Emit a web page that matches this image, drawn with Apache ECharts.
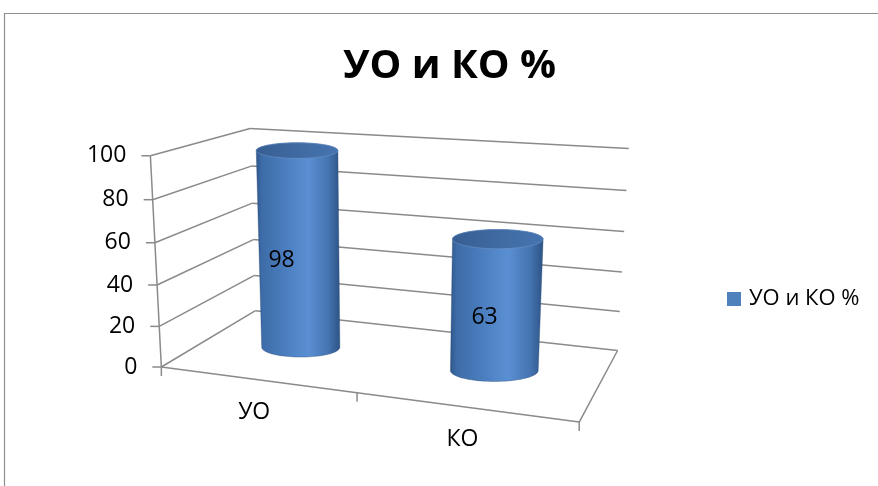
<!DOCTYPE html>
<html>
<head>
<meta charset="utf-8">
<script src="https://cdn.jsdelivr.net/npm/echarts@6/dist/echarts.min.js"></script>
<style>
  html, body { margin: 0; padding: 0; background: #ffffff; }
  #chart { width: 878px; height: 486px; }
</style>
</head>
<body>
<div id="chart"></div>
<script>
// ---------- data ----------
const categories = ['УО', 'КО'];
const values = [98, 63];
const seriesName = 'УО и КО %';
const titleText = 'УО и КО %';
const yTicks = [0, 20, 40, 60, 80, 100];

// ---------- 3D frame layout (calibration of the perspective box, unit cube -> screen) ----------
// [u (category dir), v (value dir), w (depth, 0 front .. 1 back), screenX, screenY]
const frameCalib = [
  [0, 0, 0, 161.7, 366.7],
  [0, 1, 0, 150, 156],
  [0, 0.2, 0, 158.3, 326],
  [0, 0.8, 0, 153.3, 200],
  [0, 1, 1, 250, 128],
  [0, 0.8, 1, 251.5, 166.5],
  [1, 1, 1, 628, 148],
  [1, 0.8, 1, 627.3, 190.7],
  [1, 0, 1, 617.3, 350.7],
  [1, 0, 0, 579.3, 421.7],
  [0.5, 0, 0, 357.3, 393.3]
];

function fitProjection(pts) {
  const sx = 300, ox = 440, oy = 250;
  const A = [], b = [];
  for (const [X, Y, Z, x0, y0] of pts) {
    const x = (x0 - ox) / sx, y = (y0 - oy) / sx;
    A.push([X, Y, Z, 1, 0, 0, 0, 0, -x * X, -x * Y, -x * Z]); b.push(x);
    A.push([0, 0, 0, 0, X, Y, Z, 1, -y * X, -y * Y, -y * Z]); b.push(y);
  }
  const n = 11;
  const M = Array.from({ length: n }, () => new Array(n + 1).fill(0));
  for (let r = 0; r < A.length; r++) {
    for (let i = 0; i < n; i++) {
      for (let j = 0; j < n; j++) M[i][j] += A[r][i] * A[r][j];
      M[i][n] += A[r][i] * b[r];
    }
  }
  for (let c = 0; c < n; c++) {
    let p = c;
    for (let r = c + 1; r < n; r++) if (Math.abs(M[r][c]) > Math.abs(M[p][c])) p = r;
    const tmp = M[c]; M[c] = M[p]; M[p] = tmp;
    for (let r = 0; r < n; r++) {
      if (r === c) continue;
      const f = M[r][c] / M[c][c];
      for (let k = c; k <= n; k++) M[r][k] -= f * M[c][k];
    }
  }
  const p = M.map((row, i) => row[n] / row[i]);
  return function (u, v, w) {
    const d = p[8] * u + p[9] * v + p[10] * w + 1;
    return [
      ox + sx * (p[0] * u + p[1] * v + p[2] * w + p[3]) / d,
      oy + sx * (p[4] * u + p[5] * v + p[6] * w + p[7]) / d
    ];
  };
}
const P = fitProjection(frameCalib);

// ---------- styles ----------
const FONT = '"Open Sans", "Noto Sans", sans-serif';
const LINE_COLOR = '#8a8a8a';
const LINE_W = 1.5;
const BAR_COLOR = '#4F81BD';
const CYL_RU = 0.107;   // cylinder radius in category units
const CYL_DEPTH = 0.5;  // depth position of cylinder axis

function unitOf(params, api, cat, val) {
  const cs = params.coordSys;
  const c = api.coord([cat, val]);
  return [(c[0] - cs.x) / cs.width, (cs.y + cs.height - c[1]) / cs.height];
}
function seg(a, b) {
  return { type: 'line', shape: { x1: a[0], y1: a[1], x2: b[0], y2: b[1] },
           style: { stroke: LINE_COLOR, lineWidth: LINE_W } };
}

function renderFrame(params, api) {
  const tick = api.value(1);
  const v = unitOf(params, api, 0, tick)[1];
  const children = [];
  const f = P(0, v, 0);
  children.push(seg(f, P(0, v, 1)));          // side wall gridline
  children.push(seg(P(0, v, 1), P(1, v, 1))); // back wall gridline
  children.push(seg(f, [f[0] - 9, f[1]]));    // value tick
  children.push({ type: 'text', x: f[0] - 24, y: f[1],
    style: { text: String(tick), fill: '#000', font: '23px ' + FONT, align: 'right', verticalAlign: 'middle' } });
  if (params.dataIndex === 0) {
    const vMax = unitOf(params, api, 0, yTicks[yTicks.length - 1])[1];
    children.push(seg(P(0, 0, 0), P(0, vMax, 0)));   // value axis line
    children.push(seg(P(0, 0, 0), P(1, 0, 0)));      // category axis (floor front)
    children.push(seg(P(1, 0, 0), P(1, 0, 1)));      // floor right edge
    const band = api.size([1, 0])[0] / params.coordSys.width;
    const bounds = [];
    categories.forEach((c, i) => {
      const uc = unitOf(params, api, i, 0)[0];
      if (i === 0) bounds.push(uc - band / 2);
      bounds.push(uc + band / 2);
    });
    bounds.forEach(u => {
      const q = P(u, 0, 0);
      children.push(seg(q, [q[0], q[1] + 9]));
    });
  }
  return { type: 'group', children };
}

function renderCatLabels(params, api) {
  const i = api.value(0);
  const uc = unitOf(params, api, i, 0)[0];
  const q = P(uc, 0, 0);
  return { type: 'text', x: q[0] - 2, y: q[1] + 33,
    style: { text: categories[i], fill: '#000', font: '23px ' + FONT, align: 'center', verticalAlign: 'middle' } };
}

function ellipsePts(cx, cy, rx, ry, t0, t1, n) {
  const pts = [];
  for (let k = 0; k <= n; k++) {
    const t = t0 + (t1 - t0) * k / n;
    pts.push([cx + rx * Math.cos(t), cy + ry * Math.sin(t)]);
  }
  return pts;
}

function renderCylinder(params, api) {
  const i = api.value(0);
  const val = api.value(1);
  const [uc, v] = unitOf(params, api, i, val);
  const b = P(uc, 0, CYL_DEPTH), t = P(uc, v, CYL_DEPTH);
  const rxb = (P(uc + CYL_RU, 0, CYL_DEPTH)[0] - P(uc - CYL_RU, 0, CYL_DEPTH)[0]) / 2;
  const rxt = (P(uc + CYL_RU, v, CYL_DEPTH)[0] - P(uc - CYL_RU, v, CYL_DEPTH)[0]) / 2;
  const ryb = rxb * 0.25, ryt = rxt * (0.25 - 0.06 * v);
  const body = ellipsePts(t[0], t[1], rxt, ryt, Math.PI, 2 * Math.PI, 40)
    .concat(ellipsePts(b[0], b[1], rxb, ryb, 0, Math.PI, 40));
  const top = ellipsePts(t[0], t[1], rxt, ryt, 0, 2 * Math.PI, 80);
  const lab = P(uc, v / 2, 0.3);
  return { type: 'group', children: [
    { type: 'polygon', shape: { points: body },
      style: { fill: { type: 'linear', x: 0, y: 0, x2: 1, y2: 0, colorStops: [
        { offset: 0, color: '#2f578a' }, { offset: 0.07, color: '#3d6ca8' },
        { offset: 0.35, color: '#4b7ebf' }, { offset: 0.62, color: '#5a90d3' },
        { offset: 0.86, color: '#4574b1' }, { offset: 1, color: '#2c5385' } ] },
        stroke: 'rgba(40,70,115,0.6)', lineWidth: 0.6 } },
    { type: 'polygon', shape: { points: top },
      style: { fill: { type: 'linear', x: 0, y: 0, x2: 1, y2: 1, colorStops: [
        { offset: 0, color: '#375e92' }, { offset: 1, color: '#4775b0' } ] },
        stroke: 'rgba(110,150,205,0.7)', lineWidth: 0.8 } },
    { type: 'text', x: lab[0], y: lab[1],
      style: { text: String(val), fill: '#000', font: '23px ' + FONT, align: 'center', verticalAlign: 'middle' } }
  ] };
}

const chart = echarts.init(document.getElementById('chart'), null, { renderer: 'canvas' });
chart.setOption({
  animation: false,
  backgroundColor: '#ffffff',
  title: {
    text: titleText, left: 338, top: 42,
    textStyle: { fontFamily: FONT, fontSize: 40, fontWeight: 'bold', color: '#000' }
  },
  legend: {
    data: [seriesName], left: 722, top: 283, itemWidth: 14, itemHeight: 14,
    icon: 'rect', textStyle: { fontFamily: FONT, fontSize: 22, color: '#000', padding: [0, 0, 0, 3] }
  },
  graphic: [{
    type: 'rect', z: -10, silent: true,
    shape: { x: 4.5, y: 13.5, width: 2000, height: 2000 },
    style: { fill: 'rgba(0,0,0,0)', stroke: '#8f8f8f', lineWidth: 1.2 }
  }],
  grid: { left: 100, right: 100, top: 100, bottom: 100 },
  xAxis: { type: 'category', data: categories, show: false },
  yAxis: { type: 'value', min: 0, max: 100, interval: 20, show: false },
  series: [
    { type: 'custom', name: 'frame', silent: true, z: 1, encode: { x: 0, y: 1 },
      data: yTicks.map(t => [0, t]), renderItem: renderFrame },
    { type: 'custom', name: 'cats', silent: true, z: 1, encode: { x: 0, y: 1 },
      data: categories.map((c, i) => [i, 0]), renderItem: renderCatLabels },
    { type: 'custom', name: seriesName, silent: true, z: 2, encode: { x: 0, y: 1 },
      itemStyle: { color: BAR_COLOR },
      data: values.map((v, i) => [i, v]), renderItem: renderCylinder }
  ]
});
</script>
</body>
</html>
